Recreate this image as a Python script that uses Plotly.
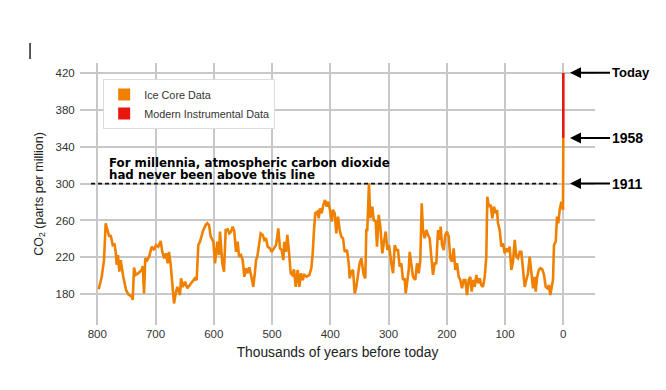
import plotly.graph_objects as go

# ---------------- data ----------------
ice_age_kyr = [797.6, 792.4, 788.5, 785.6, 782.8, 779.4, 777.0, 773.6, 770.8, 768.4, 766.7, 764.5, 762.2, 759.8,
               755.4, 750.7, 746.7, 740.9, 739.2, 737.0, 734.0, 729.6, 723.8, 722.0, 719.8, 717.6, 714.2, 710.7,
               706.6, 702.6, 699.2, 695.3, 691.2, 688.4, 685.0, 682.0, 679.2, 676.9, 674.0, 671.2, 668.3, 665.4,
               662.6, 658.0, 656.3, 653.4, 649.4, 645.4, 640.8, 636.2, 632.3, 629.4, 626.6, 623.7, 620.8, 618.0,
               613.9, 611.1, 608.2, 605.3, 600.8, 597.9, 594.0, 591.1, 589.4, 587.1, 585.4, 582.5, 579.6, 576.1,
               573.4, 570.5, 567.5, 564.8, 561.9, 559.0, 556.7, 553.3, 550.4, 547.6, 544.7, 541.8, 539.0, 534.9,
               532.2, 529.3, 527.5, 525.3, 522.4, 519.5, 516.0, 513.3, 510.4, 507.5, 503.5, 500.6, 496.7, 493.2,
               491.0, 489.3, 486.4, 483.4, 480.7, 479.0, 476.1, 473.8, 470.9, 468.0, 465.2, 462.3, 459.4, 456.0,
               453.2, 450.3, 447.4, 444.6, 440.5, 436.0, 432.6, 430.2, 428.0, 425.8, 422.3, 419.9, 417.7, 414.8,
               412.0, 409.1, 406.2, 403.4, 400.5, 397.6, 395.4, 392.4, 389.7, 386.8, 383.9, 381.1, 378.2, 375.3,
               371.3, 368.4, 366.7, 364.0, 361.0, 358.1, 355.4, 352.4, 349.6, 346.7, 342.7, 339.9, 338.2, 336.5,
               333.6, 331.3, 327.9, 325.5, 322.0, 319.8, 316.9, 314.1, 310.7, 307.8, 304.9, 302.1, 299.2, 295.3,
               292.3, 289.4, 286.7, 283.8, 280.9, 278.1, 275.2, 272.3, 270.6, 268.3, 265.4, 263.7, 261.0, 258.0,
               254.1, 251.2, 248.2, 245.5, 243.1, 240.9, 238.0, 235.2, 232.3, 229.4, 226.6, 223.7, 220.8, 218.0,
               215.1, 212.2, 210.5, 208.2, 205.3, 202.6, 199.7, 196.7, 194.0, 191.1, 188.2, 185.4, 182.5, 179.6,
               176.8, 173.9, 171.0, 168.2, 165.3, 162.4, 159.7, 157.3, 155.0, 152.1, 149.4, 146.4, 143.5, 140.8,
               137.9, 134.9, 132.2, 130.5, 127.6, 124.6, 121.9, 119.0, 116.0, 113.8, 112.1, 109.2, 106.4, 103.5,
               100.6, 97.9, 94.9, 92.0, 89.3, 86.4, 83.4, 80.7, 77.8, 74.8, 72.1, 69.2, 66.3, 63.5,
               60.6, 57.7, 54.9, 52.0, 49.1, 47.4, 45.2, 42.2, 39.5, 36.1, 33.1, 30.2, 27.5, 24.5,
               22.3, 19.4, 17.7, 16.0, 13.0, 10.8, 8.6, 6.2, 3.4, 0.5, 0.2, 0.0]
ice_co2_ppm = [185.4, 199.0, 217.0, 257.0, 250.0, 242.4, 244.0, 233.5, 235.0, 226.0, 212.0, 222.6, 204.5, 217.0,
               199.0, 184.7, 180.0, 177.4, 173.8, 209.0, 201.0, 202.8, 206.3, 210.7, 181.0, 219.0, 217.0, 221.5,
               231.6, 228.0, 233.4, 231.6, 237.8, 226.0, 219.0, 224.4, 213.6, 226.0, 211.8, 188.0, 170.0, 181.0,
               188.0, 179.2, 197.3, 188.0, 193.6, 186.5, 190.0, 193.6, 197.3, 195.5, 233.4, 237.0, 244.3, 249.7,
               255.0, 257.0, 255.0, 242.4, 237.0, 213.6, 237.0, 222.6, 247.9, 231.6, 213.6, 204.5, 249.7, 250.4,
               246.0, 248.0, 253.3, 248.0, 226.0, 237.0, 220.8, 222.6, 217.0, 199.0, 208.2, 202.8, 209.3, 197.3,
               188.0, 204.5, 217.0, 220.8, 233.4, 246.0, 244.3, 239.0, 240.7, 231.6, 229.8, 226.0, 229.8, 233.4,
               242.4, 251.5, 229.8, 228.0, 217.0, 237.0, 226.0, 244.3, 226.0, 202.8, 201.0, 207.0, 188.0, 206.3,
               188.0, 202.8, 195.5, 201.0, 199.0, 201.0, 208.2, 224.4, 249.7, 267.8, 269.5, 262.4, 273.2, 267.8,
               276.8, 282.2, 275.0, 280.4, 271.4, 258.7, 271.4, 267.8, 246.0, 264.1, 249.7, 242.4, 240.7, 226.0,
               228.0, 213.6, 197.3, 204.5, 206.3, 181.0, 188.0, 202.8, 213.6, 219.0, 201.0, 197.3, 249.7, 249.7,
               300.3, 262.4, 275.0, 260.5, 258.7, 231.6, 266.0, 253.3, 224.4, 237.0, 248.0, 228.0, 233.4, 213.6,
               202.8, 233.4, 228.0, 228.0, 210.0, 213.6, 195.5, 197.3, 181.0, 192.0, 206.3, 226.0, 213.6, 199.0,
               195.5, 213.6, 202.8, 217.0, 278.6, 249.7, 240.7, 249.7, 244.3, 240.7, 220.8, 201.0, 213.6, 213.6,
               249.7, 239.0, 253.3, 233.4, 228.0, 244.3, 248.0, 242.4, 219.0, 215.3, 229.8, 206.3, 213.6, 199.0,
               195.5, 186.5, 195.5, 195.5, 179.2, 195.5, 199.0, 182.8, 195.5, 188.0, 201.0, 192.0, 197.3, 190.0,
               188.0, 199.0, 220.8, 285.8, 275.0, 276.8, 262.4, 275.0, 267.8, 271.4, 257.0, 249.7, 231.6, 235.3,
               224.4, 229.8, 226.0, 231.6, 206.3, 215.3, 239.0, 220.8, 219.0, 226.0, 226.0, 208.2, 188.0, 195.5,
               202.8, 220.8, 206.3, 186.5, 199.0, 182.8, 197.3, 206.3, 208.2, 207.0, 201.0, 188.0, 186.5, 190.0,
               179.2, 192.0, 195.5, 233.4, 237.0, 264.1, 257.0, 271.4, 280.4, 271.4, 300.0, 349.5]

modern_age_kyr = [0.0, 0.0]
modern_co2_ppm = [349.5, 420.0]

x_tick_vals = [800, 700, 600, 500, 400, 300, 200, 100, 0]
y_tick_vals = [180, 220, 260, 300, 340, 380, 420]

marker_labels = ["Today", "1958", "1911"]
marker_values = [420.0, 349.5, 300.0]
marker_sizes = [13, 14, 14]

threshold_ppm = 300
threshold_text = ["For millennia, atmospheric carbon dioxide", "had never been above this line"]

ORANGE = "#EF8000"
RED = "#E8170F"
FONT = "Liberation Sans, Arial, Helvetica, sans-serif"
NOTE_FONT = "DejaVu Sans, Liberation Sans, Arial, sans-serif"

fig = go.Figure()
fig.add_trace(go.Scatter(x=ice_age_kyr, y=ice_co2_ppm, mode="lines",
                         line=dict(color=ORANGE, width=2.6), showlegend=False))
fig.add_trace(go.Scatter(x=modern_age_kyr, y=modern_co2_ppm, mode="lines",
                         line=dict(color=RED, width=2.6), showlegend=False))
# legend entries (square swatches)
fig.add_trace(go.Scatter(x=[None], y=[None], mode="markers", name="Ice Core Data",
                         marker=dict(symbol="square", size=12, color=ORANGE)))
fig.add_trace(go.Scatter(x=[None], y=[None], mode="markers", name="Modern Instrumental Data",
                         marker=dict(symbol="square", size=12, color=RED)))

# threshold dashed line
fig.add_shape(type="line", xref="x", yref="y", x0=810.8, x1=5.7, y0=threshold_ppm, y1=threshold_ppm,
              line=dict(color="#111111", width=1.6, dash="4px,3px"))

# stray cursor mark
fig.add_shape(type="line", xref="paper", yref="paper", x0=-0.097, x1=-0.097, y0=1.015, y1=1.076,
              line=dict(color="black", width=1.3))

annotations = []
annotations.append(dict(x=781.6, y=321.8, xref="x", yref="y", text="<b>" + threshold_text[0] + "</b>",
                        showarrow=False, xanchor="left", yanchor="middle", borderpad=0,
                        font=dict(size=11.8, color="black", family=NOTE_FONT)))
annotations.append(dict(x=781.6, y=309.6, xref="x", yref="y", text="<b>" + threshold_text[1] + "</b>",
                        showarrow=False, xanchor="left", yanchor="middle", borderpad=0,
                        font=dict(size=11.8, color="black", family=NOTE_FONT)))
for lab, val, sz in zip(marker_labels, marker_values, marker_sizes):
    annotations.append(dict(x=0.9515, y=val, xref="paper", yref="y", text="<b>" + lab + "</b>",
                            showarrow=True, ax=40, ay=0, xanchor="left", yanchor="middle",
                            arrowhead=2, arrowsize=1.1, arrowwidth=2, arrowcolor="black",
                            font=dict(size=sz, color="black", family=FONT)))

fig.update_layout(
    width=658, height=382,
    margin=dict(l=72, r=71, t=55, b=65),
    paper_bgcolor="white", plot_bgcolor="white",
    font=dict(family=FONT, color="#333333"),
    annotations=annotations,
    legend=dict(x=0.045, y=0.939, xanchor="left", yanchor="top", bgcolor="white",
                bordercolor="#dcdcdc", borderwidth=1, font=dict(size=10.8, color="#333333", family=FONT)),
    xaxis=dict(range=[829.7, -54.4], tickvals=x_tick_vals, ticktext=[str(v) for v in x_tick_vals],
               showgrid=True, gridcolor="#c8c8c8", gridwidth=1.5, zeroline=False, showline=False,
               ticks="", tickfont=dict(size=11.5, color="#333333"),
               title=dict(text="Thousands of years before today", font=dict(size=13.8, color="#222222"),
                          standoff=8)),
    yaxis=dict(range=[146.7, 430.7], tickvals=y_tick_vals, ticktext=[str(v) for v in y_tick_vals],
               showgrid=True, gridcolor="#c8c8c8", gridwidth=1.5, zeroline=False, showline=False,
               ticks="outside", ticklen=2, tickcolor="rgba(0,0,0,0)",
               tickfont=dict(size=11.5, color="#333333"),
               title=dict(text="CO<sub>2</sub> (parts per million)", font=dict(size=12.5, color="#222222"),
                          standoff=9)),
)

fig.write_html("out.html")
